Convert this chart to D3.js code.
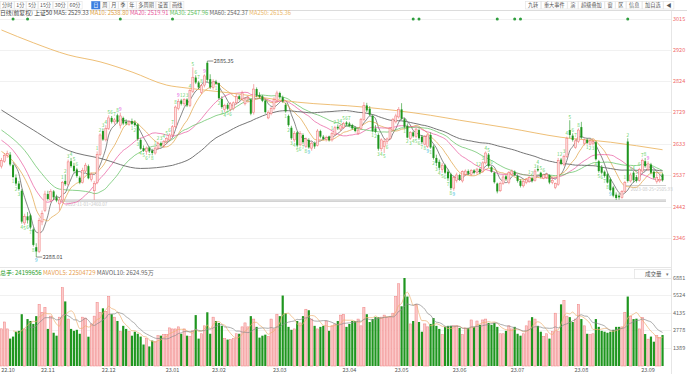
<!DOCTYPE html>
<html>
<head>
<meta charset="utf-8">
<script src="https://cdn.jsdelivr.net/npm/d3@7"></script>
<style>
body { margin: 0; background: #fff; }
svg { display: block; font-family: "Noto Sans CJK SC", "Noto Sans", sans-serif; }
</style>
</head>
<body>
<div id="chart"></div>
<script>
// daily candles [open, high, low, close], 22.10 .. 23.09
const ohlc = [
  [2565,2590,2558,2582],[2580,2605,2575,2598],[2598,2612,2590,2603],[2600,2608,2565,2570],[2568,2572,2528,2532],
  [2530,2540,2505,2512],[2512,2520,2490,2495],[2490,2495,2390,2396],[2392,2420,2385,2412],[2412,2425,2390,2400],
  [2415,2420,2372,2378],[2372,2378,2320,2325],[2318,2330,2288.01,2305],[2305,2408,2300,2400],[2395,2430,2385,2420],
  [2430,2490,2425,2480],[2480,2490,2460,2465],[2462,2495,2455,2488],[2488,2492,2462,2470],[2470,2478,2455,2460],
  [2450,2470,2430,2462],[2462,2520,2455,2515],[2520,2540,2505,2510],[2510,2585,2505,2578],[2580,2590,2560,2565],
  [2566,2575,2545,2550],[2555,2560,2530,2535],[2530,2535,2510,2515],[2515,2560,2512,2552],[2550,2575,2545,2568],
  [2565,2570,2525,2528],[2525,2545,2518,2540],[2490,2520,2462,2512],[2515,2610,2510,2600],[2600,2665,2595,2660],
  [2672,2680,2642,2646],[2645,2690,2640,2680],[2680,2720,2675,2712],[2712,2718,2695,2700],[2700,2712,2692,2706],
  [2720,2725,2695,2700],[2690,2728,2680,2718],[2712,2716,2690,2695],[2700,2708,2690,2695],[2692,2705,2688,2700],
  [2702,2710,2690,2694],[2698,2705,2685,2690],[2692,2696,2642,2648],[2645,2650,2615,2618],[2620,2628,2608,2612],
  [2610,2625,2600,2620],[2620,2625,2605,2610],[2612,2618,2598,2605],[2605,2625,2600,2620],[2620,2640,2615,2635],
  [2635,2640,2622,2628],[2628,2645,2620,2640],[2640,2655,2632,2650],[2645,2665,2640,2660],[2660,2690,2655,2685],
  [2685,2750,2680,2745],[2740,2770,2735,2762],[2765,2770,2750,2755],[2755,2772,2748,2768],[2768,2772,2745,2750],
  [2750,2800,2745,2795],[2792,2866,2788,2836],[2835,2842,2815,2820],[2820,2825,2800,2805],[2790,2815,2785,2810],
  [2812,2845,2805,2840],[2880,2885.35,2822,2828],[2830,2845,2800,2805],[2805,2830,2798,2822],[2822,2828,2812,2816],
  [2818,2820,2768,2772],[2770,2778,2740,2745],[2738,2755,2730,2750],[2752,2758,2735,2740],[2738,2760,2732,2755],
  [2740,2762,2735,2758],[2758,2785,2752,2778],[2778,2782,2765,2770],[2770,2795,2765,2788],[2755,2775,2750,2770],
  [2770,2780,2758,2775],[2768,2772,2720,2725],[2728,2815,2722,2800],[2800,2805,2775,2780],[2782,2790,2772,2776],
  [2778,2782,2760,2764],[2765,2768,2725,2730],[2712,2735,2708,2728],[2725,2745,2720,2740],[2740,2775,2735,2768],
  [2765,2795,2760,2788],[2788,2792,2770,2775],[2775,2780,2758,2762],[2752,2758,2728,2732],[2718,2722,2685,2690],
  [2682,2688,2645,2650],[2645,2672,2638,2665],[2668,2672,2622,2628],[2630,2672,2625,2665],[2660,2665,2632,2638],
  [2625,2652,2620,2648],[2645,2650,2618,2622],[2620,2640,2612,2635],[2635,2640,2618,2625],[2628,2678,2625,2672],
  [2672,2676,2650,2655],[2655,2660,2645,2648],[2646,2658,2640,2652],[2655,2658,2640,2644],[2645,2670,2640,2665],
  [2662,2688,2658,2682],[2685,2692,2675,2680],[2678,2692,2672,2688],[2682,2700,2678,2695],[2698,2702,2688,2692],
  [2695,2700,2685,2688],[2690,2694,2676,2680],[2682,2686,2668,2672],[2665,2680,2660,2675],[2680,2712,2675,2708],
  [2708,2760,2703,2750],[2750,2758,2730,2735],[2740,2748,2718,2722],[2718,2722,2668,2672],[2680,2690,2665,2670],
  [2660,2665,2612,2618],[2618,2650,2610,2645],[2625,2650,2605,2640],[2640,2652,2632,2648],[2650,2684,2645,2680],
  [2675,2712,2670,2708],[2700,2725,2695,2718],[2715,2745,2710,2738],[2738,2757,2705,2710],[2708,2712,2680,2685],
  [2688,2695,2650,2652],[2650,2672,2645,2668],[2668,2672,2652,2656],[2655,2682,2650,2678],[2675,2680,2645,2650],
  [2655,2660,2632,2638],[2632,2660,2628,2655],[2625,2665,2620,2660],[2660,2668,2618,2622],[2625,2630,2585,2590],
  [2590,2600,2565,2575],[2578,2585,2552,2560],[2555,2575,2545,2568],[2568,2572,2540,2545],[2548,2555,2520,2528],
  [2540,2545,2492,2498],[2498,2535,2490,2530],[2522,2545,2515,2538],[2538,2542,2520,2525],[2520,2552,2515,2548],
  [2540,2555,2535,2550],[2550,2555,2538,2542],[2540,2556,2535,2552],[2552,2556,2540,2545],[2545,2560,2540,2556],
  [2556,2560,2540,2546],[2548,2580,2545,2575],[2575,2610,2570,2605],[2600,2605,2560,2565],[2562,2566,2545,2548],
  [2545,2548,2512,2516],[2512,2515,2482,2488],[2490,2518,2486,2512],[2512,2538,2508,2532],[2534,2538,2520,2525],
  [2515,2550,2510,2545],[2540,2555,2535,2550],[2548,2552,2535,2538],[2535,2540,2515,2520],[2520,2525,2500,2505],
  [2505,2522,2500,2518],[2515,2528,2510,2524],[2518,2535,2514,2530],[2528,2532,2515,2520],[2522,2556,2518,2550],
  [2556,2568,2548,2552],[2545,2548,2528,2532],[2528,2542,2525,2538],[2530,2545,2526,2540],[2538,2540,2510,2515],
  [2515,2528,2510,2522],[2500,2515,2495,2512],[2510,2590,2505,2582],[2585,2590,2568,2572],[2570,2600,2565,2595],
  [2595,2655,2590,2650],[2675,2705,2650,2660],[2658,2665,2640,2645],[2622,2648,2618,2642],[2640,2680,2635,2675],
  [2684,2700,2648,2652],[2635,2650,2628,2645],[2645,2650,2632,2636],[2632,2648,2628,2642],[2635,2648,2628,2640],
  [2638,2642,2582,2586],[2580,2584,2545,2550],[2562,2568,2540,2545],[2548,2552,2530,2535],[2540,2545,2512,2515],
  [2525,2530,2488,2492],[2500,2505,2470,2475],[2478,2485,2462,2468],[2475,2482,2463,2470],[2470,2492,2466,2488],
  [2488,2520,2484,2515],[2640,2650,2515,2520],[2520,2545,2515,2538],[2545,2550,2515,2522],[2532,2538,2515,2520],
  [2522,2560,2518,2555],[2550,2588,2545,2582],[2580,2590,2560,2565],[2555,2580,2550,2572],[2570,2575,2540,2545],
  [2548,2552,2525,2530],[2518,2545,2512,2530],[2520,2540,2515,2525],[2540,2545,2518,2522]
];

// volume in 万手
const volumes = [
  2907,3442,2900,2142,2300,2680,2750,4050,2900,3670,
  3520,3290,3900,4820,4200,4590,2900,3900,2600,2370,
  3820,6120,5050,3670,2900,2750,2830,2520,3820,3750,
  2290,3290,3900,4970,4200,4510,4280,5430,4050,3820,
  3520,2680,3140,2900,2680,2370,2680,2520,2300,1680,
  2142,1530,1990,1910,2370,2370,2450,2450,2980,2900,
  2900,3060,2520,2900,2370,2300,2750,3980,2142,2520,
  3140,4200,2520,3820,3520,3370,3140,2142,2065,2065,
  2142,2520,2520,3060,3370,3060,3900,3670,3060,2220,
  2370,2450,2300,3670,2900,4050,3900,5510,4130,3060,
  2830,2900,3520,3370,3900,4440,4360,3670,3140,2900,
  3060,3140,3520,2750,3140,3290,3520,3980,4050,3060,
  3290,3520,3520,3670,3140,4590,4050,3440,3670,3820,
  3820,3820,3980,3820,3820,4130,5430,6430,4670,6880,
  5430,3290,3520,4820,3440,2680,3290,3060,3290,3750,
  3140,2900,2450,3060,3140,3140,3140,3140,2980,2450,
  2980,2980,3600,3060,3520,3220,3600,3670,3370,3220,
  3370,3060,2520,2520,2750,3140,2900,3060,2520,2370,
  2520,3140,3520,3820,3670,3140,2680,2300,2520,2142,
  2680,4130,2680,4820,5130,3900,3820,3440,3670,4820,
  3670,3140,2520,2450,2520,3670,3060,2750,2680,2600,
  2680,2830,3060,3060,3060,4200,5430,3900,3670,3700,
  2900,3800,2500,2100,2300,1900,2400,2230,2420
];

const monthLabels = ["22.10","22.11","22.12","23.01","23.02","23.03","23.04","23.05","23.06","23.07","23.08","23.09"];
const monthIndex = [2, 16, 37, 59, 75, 96, 120, 138, 158, 178, 200, 223];
const priceTicks = [3015, 2920, 2824, 2729, 2633, 2537, 2442, 2346];
const volTicks = [6881, 5524, 4135, 2778, 1389];
const eventDays = [4, 9, 41, 59, 142, 144, 171, 177, 179, 216];

const ma10Head = [[0, 2610], [4, 2580]];
const ma20Head = [[0, 2644], [4, 2613], [8, 2560], [12, 2490], [16, 2455]];
const ma30Head = [[0, 2675], [8, 2613], [13, 2552], [20, 2495]];
const ma60Head = [[0, 2736], [11, 2675], [23, 2613], [34, 2589], [48, 2558]];
const ma250Line = [[0, 2980], [11, 2941], [23, 2904], [34, 2883], [45, 2852], [57, 2812], [64, 2803], [79, 2788],
  [102, 2760], [125, 2745], [148, 2720], [158, 2705], [175, 2681], [193, 2653], [210, 2638], [228, 2615]];

const maNames = ["MA5", "MA10", "MA20", "MA30", "MA60", "MA250"];
const maValues = ["2529.33", "2538.80", "2519.91", "2547.96", "2542.37", "2615.36"];
const maColors = ["#555", "#e0a040", "#e8559c", "#5cbf5c", "#666", "#ecb868"];

const toolLeft = ["分时", "1分", "5分", "15分", "30分", "60分", "日", "周", "月", "季", "年", "多周期", "设置", "画线"];
const toolRight = ["九转", "重大事件", "演", "超级叠加", "窗", "区", "信息", "加自选", "◀"];

const annotations = [
  { start: 20, price: 2460.07, text: "2022-11-01=2460.07", thick: true },
  { start: 215, price: 2505.93, text: "2023-08-25=2505.93", thick: false }
];

const RED = "#f07070", RED_FILL = "#fde0e0", GREEN = "#1f961f";

const svg = d3.select("#chart").append("svg")
  .attr("width", 687).attr("height", 374);

const n = ohlc.length;
const x = d3.scaleBand().domain(d3.range(n)).range([0, 664]);
const cx = i => x(i) + x.bandwidth() / 2;
const y = d3.scaleLinear().domain([2346, 3015]).range([238, 18.5]);
const yv = d3.scaleLinear().domain([0, 6881]).range([366, 278]);

// grid
svg.append("g").selectAll("line").data(priceTicks).join("line")
  .attr("x1", 0).attr("x2", 671).attr("y1", d => Math.round(y(d)) + 0.5).attr("y2", d => Math.round(y(d)) + 0.5)
  .attr("stroke", "#f1f1f1");
svg.append("g").selectAll("line").data(volTicks).join("line")
  .attr("x1", 0).attr("x2", 671).attr("y1", d => Math.round(yv(d)) + 0.5).attr("y2", d => Math.round(yv(d)) + 0.5)
  .attr("stroke", "#f1f1f1");
svg.append("line").attr("x1", 0).attr("x2", 687).attr("y1", 10.5).attr("y2", 10.5).attr("stroke", "#dcdcdc");
svg.append("line").attr("x1", 0).attr("x2", 671).attr("y1", 267.5).attr("y2", 267.5).attr("stroke", "#e6e6e6");
svg.append("line").attr("x1", 671.5).attr("x2", 671.5).attr("y1", 11).attr("y2", 374).attr("stroke", "#e6e6e6");

// toolbar
function toolbar(labels, startX, align, gapAfter, pad) {
  const g = svg.append("g").style("font-size", "5.2px");
  const items = labels.map(t => {
    const txt = g.append("text").attr("y", 6.9).text(t).attr("fill", t === "日" ? "#fff" : "#555");
    return { t, txt, w: txt.node().getComputedTextLength() + pad * 2 };
  });
  const total = d3.sum(items, d => d.w + 0.6);
  let cur = align === "right" ? startX - total : startX;
  items.forEach(d => {
    g.insert("rect", "text").attr("x", cur + 0.5).attr("y", 1.5).attr("width", d.w).attr("height", 7.5)
      .attr("fill", d.t === "日" ? "#3d7fe0" : "#fff").attr("stroke", d.t === "日" ? "#3d7fe0" : "#e2e2e2").attr("stroke-width", 0.6);
    d.txt.attr("x", cur + 0.5 + pad);
    cur += d.w + 0.6;
    if (d.t === gapAfter) cur += 9;
  });
}
toolbar(toolLeft, 0, "left", "60分", 1.6);
toolbar(toolRight, 674, "right", null, 2.5);

// legend
const legend = svg.append("text").attr("x", 0).attr("y", 15.4).style("font-size", "5.8px");
legend.append("tspan").attr("fill", "#444").text("日线(前复权)  ");
legend.append("tspan").attr("fill", "#333").text("上证50 ");
maNames.forEach((m, k) => legend.append("tspan").attr("fill", maColors[k]).text(`${m}: ${maValues[k]}  `));

// price axis labels
svg.append("g").style("font-size", "5.5px").selectAll("text").data(priceTicks).join("text")
  .attr("x", 673).attr("y", d => y(d) + 2).attr("fill", "#f06a6a").text(d => d);
svg.append("g").style("font-size", "5.5px").selectAll("text").data(volTicks).join("text")
  .attr("x", 673).attr("y", d => yv(d) + 2).attr("fill", "#666").text(d => d);

// annotation lines
annotations.forEach(a => {
  const yy = y(a.price);
  svg.append("line").attr("x1", cx(a.start)).attr("x2", 666).attr("y1", yy).attr("y2", yy)
    .attr("stroke", "#c4c4c4").attr("stroke-width", a.thick ? 2.2 : 0.8);
  if (a.thick) svg.append("line").attr("x1", cx(a.start)).attr("x2", 666).attr("y1", yy).attr("y2", yy)
    .attr("stroke", "#eee").attr("stroke-width", 0.6);
  svg.append("text").attr("x", cx(a.start) + 6).attr("y", yy + 5).style("font-size", "4.5px")
    .attr("fill", "#c8c8c8").text(a.text);
});

// moving averages
const closes = ohlc.map(d => d[3]);
function sma(arr, len) {
  const out = [];
  for (let i = len - 1; i < arr.length; i++) out.push([i, d3.mean(arr.slice(i - len + 1, i + 1))]);
  return out;
}
const line = d3.line().x(d => cx(d[0])).y(d => y(d[1])).curve(d3.curveMonotoneX);
const maSeries = [
  sma(closes, 5),
  ma10Head.concat(sma(closes, 10)),
  ma20Head.concat(sma(closes, 20)),
  ma30Head.concat(sma(closes, 30)),
  ma60Head.concat(sma(closes, 60)),
  ma250Line
];
const maWidth = [0.7, 0.7, 0.7, 0.7, 0.9, 0.9];
svg.append("g").selectAll("path").data(maSeries).join("path")
  .attr("d", line).attr("fill", "none")
  .attr("stroke", (d, k) => maColors[k]).attr("stroke-width", (d, k) => maWidth[k]);

// candles
const isUp = d => d[3] >= d[0];
const candles = svg.append("g").selectAll("g").data(ohlc).join("g");
candles.append("line")
  .attr("x1", (d, i) => cx(i)).attr("x2", (d, i) => cx(i))
  .attr("y1", d => y(d[1])).attr("y2", d => y(d[2]))
  .attr("stroke", d => isUp(d) ? RED : GREEN).attr("stroke-width", 0.6);
candles.append("rect")
  .attr("x", (d, i) => cx(i) - 1).attr("width", 2)
  .attr("y", d => y(Math.max(d[0], d[3])))
  .attr("height", d => Math.max(0.6, Math.abs(y(d[0]) - y(d[3]))))
  .attr("fill", d => isUp(d) ? RED_FILL : GREEN)
  .attr("stroke", d => isUp(d) ? RED : "none").attr("stroke-width", 0.5);

// TD setup counts (only runs that get to 6 or more are shown)
const td = [];
let upCount = 0, dnCount = 0, run = 0;
closes.forEach((c, i) => {
  if (i < 4) return;
  if (c > closes[i - 4]) {
    if (upCount === 0 || upCount >= 9) run++;
    upCount = upCount >= 9 ? 1 : upCount + 1; dnCount = 0;
    td.push({ i, n: upCount, up: true, run });
  } else if (c < closes[i - 4]) {
    if (dnCount === 0 || dnCount >= 9) run++;
    dnCount = dnCount >= 9 ? 1 : dnCount + 1; upCount = 0;
    td.push({ i, n: dnCount, up: false, run });
  } else { upCount = 0; dnCount = 0; }
});
const runMax = d3.rollup(td, v => d3.max(v, d => d.n), d => d.run);
const tdShown = td.filter(d => runMax.get(d.run) >= 6);
svg.append("g").style("font-size", "4.6px").attr("text-anchor", "middle")
  .selectAll("text").data(tdShown).join("text")
  .attr("x", d => cx(d.i))
  .attr("y", d => d.up ? y(ohlc[d.i][1]) - 1.5 : y(ohlc[d.i][2]) + 5)
  .attr("fill", d => d.n === 9 ? (d.up ? "#e040e0" : "#2cb8e0") : "#62d062")
  .text(d => d.n);

// high / low marks
const hiIdx = d3.maxIndex(ohlc, d => d[1]);
const loIdx = d3.minIndex(ohlc, d => d[2]);
[[hiIdx, ohlc[hiIdx][1]], [loIdx, ohlc[loIdx][2]]].forEach(([i, v]) => {
  svg.append("line").attr("x1", cx(i)).attr("x2", cx(i) + 6).attr("y1", y(v)).attr("y2", y(v))
    .attr("stroke", "#444").attr("stroke-width", 0.6);
  svg.append("text").attr("x", cx(i) + 6.5).attr("y", y(v) + 2).style("font-size", "5.5px")
    .attr("fill", "#444").text(v.toFixed(2));
});

// event dots
svg.append("g").selectAll("circle").data(eventDays).join("circle")
  .attr("cx", d => cx(d)).attr("cy", 19).attr("r", 1.5).attr("fill", "#2e9e3e");

// volume legend + selector
const vleg = svg.append("text").attr("x", 0).attr("y", 275).style("font-size", "6px");
vleg.append("tspan").attr("fill", "#2a9d2a").text("总手: 24199656  ");
vleg.append("tspan").attr("fill", "#e8a050").text("MAVOL5: 22504729  ");
vleg.append("tspan").attr("fill", "#666").text("MAVOL10: 2624.95万");
svg.append("rect").attr("x", 634.5).attr("y", 269.5).attr("width", 37).attr("height", 9)
  .attr("fill", "#fff").attr("stroke", "#ddd").attr("stroke-width", 0.6);
svg.append("text").attr("x", 645).attr("y", 276.3).style("font-size", "5.5px").attr("fill", "#555").text("成交量");
svg.append("text").attr("x", 666).attr("y", 276.3).style("font-size", "5px").attr("fill", "#777").text("▾");

// volume bars
svg.append("g").selectAll("rect").data(volumes).join("rect")
  .attr("x", (d, i) => cx(i) - 1.1).attr("width", 2.2)
  .attr("y", d => yv(d)).attr("height", d => yv(0) - yv(d))
  .attr("fill", (d, i) => isUp(ohlc[i]) ? "#fbcaca" : GREEN)
  .attr("stroke", (d, i) => isUp(ohlc[i]) ? "#f08080" : "none").attr("stroke-width", 0.5);

const vline = d3.line().x(d => cx(d[0])).y(d => yv(d[1])).curve(d3.curveMonotoneX);
[[sma(volumes, 5), "#eeb070"], [sma(volumes, 10), "#8a8a8a"]].forEach(([s, c]) => {
  svg.append("path").attr("d", vline(s)).attr("fill", "none").attr("stroke", c).attr("stroke-width", 0.7);
});

// month labels
svg.append("g").style("font-size", "5.5px").attr("text-anchor", "middle")
  .selectAll("text").data(monthLabels).join("text")
  .attr("x", (d, k) => Math.max(8, cx(monthIndex[k]))).attr("y", 371.5)
  .attr("fill", "#555").text(d => d);
</script>
</body>
</html>
